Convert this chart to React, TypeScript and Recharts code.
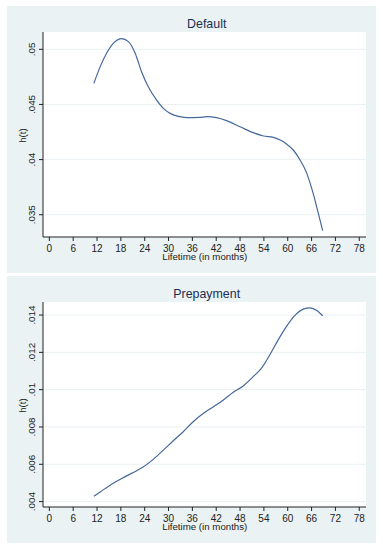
import React from 'react';
import { LineChart, Line, XAxis, YAxis, CartesianGrid } from 'recharts';

const xTicks = [0, 6, 12, 18, 24, 30, 36, 42, 48, 54, 60, 66, 72, 78];

const defaultMonths = [11.2, 12.8, 14.4, 16.1, 18.2, 19.9, 21.6, 23.2, 24.9, 27.0, 28.7, 30.4, 32.9, 34.6, 37.9, 39.6, 42.1, 44.6, 48.0, 51.3, 53.9, 56.4, 58.1, 59.7, 61.4, 63.1, 64.8, 66.4, 67.7, 68.8];
const defaultHazard = [0.04691, 0.04843, 0.04964, 0.05054, 0.05097, 0.0507, 0.04964, 0.04797, 0.04661, 0.0454, 0.04465, 0.04419, 0.04389, 0.0438, 0.04383, 0.04389, 0.0438, 0.04353, 0.04298, 0.04244, 0.04214, 0.04201, 0.04177, 0.04141, 0.04087, 0.03996, 0.03875, 0.03693, 0.03512, 0.03355];
const defaultYTicks = [0.035, 0.04, 0.045, 0.05];

const prepayMonths = [11.2, 12.8, 15.3, 18.2, 21.1, 23.7, 26.2, 28.7, 31.2, 33.7, 36.2, 38.8, 41.3, 43.8, 46.3, 48.8, 51.3, 53.4, 55.5, 57.6, 59.7, 61.8, 63.9, 65.6, 67.3, 68.8];
const prepayHazard = [0.004287, 0.00452, 0.00488, 0.005237, 0.00556, 0.005864, 0.006276, 0.00676, 0.007262, 0.007746, 0.008283, 0.008731, 0.00909, 0.009448, 0.00986, 0.0102, 0.0107, 0.01115, 0.01187, 0.01267, 0.01339, 0.01398, 0.01432, 0.01439, 0.01425, 0.01396];
const prepayYTicks = [0.004, 0.006, 0.008, 0.01, 0.012, 0.014];

const FONT = '"Liberation Sans", Arial, sans-serif';
const PANEL_W = 369;
const PANEL_H = 267;
const M = { top: 26, right: 10, bottom: 36, left: 36 };
const AXIS_Y = PANEL_H - M.bottom;

const fmtY = (v: number) => String(v).replace(/^0/, '');

const XTick = (props: any) => {
  const { x, payload } = props;
  return (
    <text x={x} y={AXIS_Y + 15} textAnchor="middle" fontSize={10} fontFamily={FONT} fill="#222">
      {payload.value}
    </text>
  );
};

const YTick = (props: any) => {
  const { y, payload } = props;
  const x = M.left - 8;
  return (
    <text x={x} y={y} textAnchor="middle" fontSize={9.8} fontFamily={FONT} fill="#222" transform={`rotate(-90 ${x} ${y})`}>
      {fmtY(payload.value)}
    </text>
  );
};

type PanelProps = {
  title: string;
  months: number[];
  values: number[];
  yTicks: number[];
  yDomain: [number, number];
  top: number;
};

const Panel = ({ title, months, values, yTicks, yDomain, top }: PanelProps) => {
  const data = months.map((m, i) => ({ m, h: values[i] }));
  const cy = (M.top + AXIS_Y) / 2 + 1;
  return (
    <div style={{ position: 'absolute', left: 7, top, width: PANEL_W, height: PANEL_H, background: '#EAF2F3' }}>
      <LineChart width={PANEL_W} height={PANEL_H} data={data} margin={{ top: M.top, right: M.right, bottom: 0, left: 0 }}>
        <CartesianGrid horizontal vertical={false} fill="#ffffff" stroke="#EAF0F3" strokeWidth={1} horizontalValues={yTicks} />
        <XAxis
          dataKey="m"
          type="number"
          domain={[-1.6, 79.7]}
          allowDataOverflow
          ticks={xTicks}
          interval={0}
          height={M.bottom}
          tickSize={4}
          tick={<XTick />}
          axisLine={{ stroke: '#222', strokeWidth: 1 }}
          tickLine={{ stroke: '#222', strokeWidth: 1 }}
        />
        <YAxis
          type="number"
          domain={yDomain}
          allowDataOverflow
          ticks={yTicks}
          interval={0}
          width={M.left}
          tickSize={4}
          tick={<YTick />}
          axisLine={{ stroke: '#222', strokeWidth: 1 }}
          tickLine={{ stroke: '#222', strokeWidth: 1 }}
        />
        <Line dataKey="h" type="monotone" stroke="#46689a" strokeWidth={1.2} dot={false} isAnimationActive={false} />
      </LineChart>
      <svg width={PANEL_W} height={PANEL_H} style={{ position: 'absolute', left: 0, top: 0, pointerEvents: 'none' }}>
        <text x={199.7} y={22} textAnchor="middle" fontSize={12.4} fontFamily={FONT} fill="#1c2e55">{title}</text>
        <text x={18.5} y={cy} textAnchor="middle" fontSize={9.7} fontFamily={FONT} fill="#222" transform={`rotate(-90 18.5 ${cy})`}>h(t)</text>
        <text x={197.8} y={253.5} textAnchor="middle" fontSize={9.7} fontFamily={FONT} fill="#222">Lifetime (in months)</text>
      </svg>
    </div>
  );
};

export default function App() {
  return (
    <div style={{ position: 'absolute', left: 0, top: 0, width: 383, height: 550, background: '#ffffff' }}>
      <Panel title="Default" months={defaultMonths} values={defaultHazard} yTicks={defaultYTicks} yDomain={[0.03298, 0.05157]} top={6} />
      <Panel title="Prepayment" months={prepayMonths} values={prepayHazard} yTicks={prepayYTicks} yDomain={[0.00371, 0.0147]} top={276} />
    </div>
  );
}
